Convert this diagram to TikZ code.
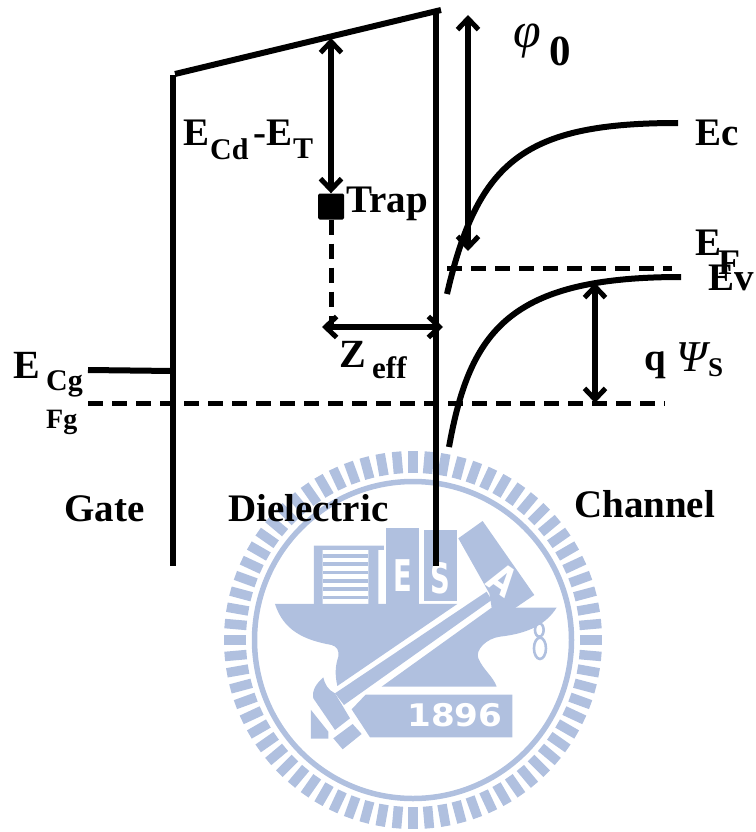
\documentclass[tikz,border=0pt]{standalone}
\usepackage{fontspec}
\setmainfont{Liberation Serif}
\newfontfamily\logofont{DejaVu Sans}
\usetikzlibrary{arrows.meta,calc}
\definecolor{seal}{HTML}{B0C0DF}
\tikzset{
  x=1pt,y=-1pt,
  band/.style={line width=6pt,black},
  level/.style={line width=5pt,black,dash pattern=on 15pt off 9pt},
  dim/.style={line width=5.5pt,black,{Straight Barb[length=11pt,width=21pt,line width=5pt]}-{Straight Barb[length=11pt,width=21pt,line width=5pt]}},
  lab/.style={anchor=base west,inner sep=0pt,font=\bfseries\fontsize{39}{39}\selectfont},
  sublab/.style={anchor=base west,inner sep=0pt,font=\bfseries\fontsize{30}{30}\selectfont},
  logotext/.style={text=white,inner sep=0pt,font=\logofont\bfseries\fontsize{38}{38}\selectfont},
  sealfill/.style={fill=seal,draw=none}
}
\begin{document}
\begin{tikzpicture}
\useasboundingbox (0,0) rectangle (755,832);
% seal
\coordinate (sc) at (413,640);
\foreach \a in {0,5,...,355}{
  \draw[seal,line width=9.5pt] ($(sc)+(\a:167)$) -- ($(sc)+(\a:189)$);
}
\draw[seal,line width=5.5pt] (sc) circle (158.5);
\begin{scope}[shift={(200,480)},x=0.3333pt,y=-0.3333pt]
  % anvil left and top
  \path[sealfill] (225,372) -- (772,372) -- (412,618) .. controls (405,585) and (405,560) .. (415,530) .. controls (418,510) and (410,500) .. (395,495) .. controls (310,480) and (250,450) .. cycle;
  % anvil right
  \path[sealfill] (875,383) -- (1070,383) .. controls (1040,430) and (990,460) .. (900,470) .. controls (860,475) and (825,510) .. (835,535) .. controls (850,570) and (880,590) .. (890,620) -- (545,620) -- cycle;
  % handle
  \path[sealfill] (405,640) -- (860,335) -- (875,360) -- (432,675) -- cycle;
  % head
  \path[sealfill] (370,592) .. controls (350,610) and (335,630) .. (340,655) -- (405,750) -- (450,715) -- (428,678) -- (405,640) .. controls (385,630) and (375,615) .. cycle;
  \path[sealfill] (333,690) -- (385,755) -- (385,776) -- (333,776) -- cycle;
  \path[sealfill] (400,775) -- (458,732) -- (485,762) -- (428,808) -- cycle;
  % banner
  \path[sealfill] (455,688) -- (497,644) -- (937,644) -- (937,772) -- (510,772) -- cycle;
  % books
  \path[sealfill] (342,197) -- (552,197) -- (552,210) -- (535,210) -- (535,372) -- (505,372) -- (505,210) -- (368,210) -- (368,372) -- (342,372) -- cycle;
  \foreach \y in {234,258,283,308,333,358}{
    \path[sealfill] (368,\y-11) rectangle (505,\y);
  }
  \path[sealfill] (557,143) rectangle (657,372);
  \path[sealfill] (672,150) rectangle (772,362);
  \path[sealfill] (775,175) -- (848,123) -- (1003,345) -- (915,405) -- (875,383) -- (868,340) -- cycle;
  \node[logotext,xscale=0.72,yscale=1.15] (letE) at (610,287) {E};
  \node[logotext,xscale=0.72,yscale=1.1] (letS) at (721,295) {S};
  \node[logotext,rotate=-35,xscale=0.85,yscale=1.05] (letA) at (908,298) {A};
  \node[logotext,xscale=0.9,yscale=0.82] (year) at (765,705) {1896};
  % chain
  \draw[seal,line width=2.6pt] (1018,450) ellipse (13 and 20);
  \draw[seal,line width=2.6pt] (1020,505) ellipse (18 and 32);
\end{scope}
% named points
\coordinate (gateB) at (173,566);
\coordinate (gateT) at (173,75);
\coordinate (cdR) at (441,10);
\coordinate (cdL) at (175,74);
\coordinate (dielT) at (436,12);
\coordinate (dielB) at (436,566);
\coordinate (cgL) at (88,370);
\coordinate (cgR) at (173,371);
\coordinate (fgL) at (88,403);
\coordinate (fgR) at (665,403);
\coordinate (efL) at (447,268);
\coordinate (efR) at (672,268);
\coordinate (phiT) at (468,15);
\coordinate (phiB) at (468,251);
\coordinate (cdA) at (331,38);
\coordinate (zL) at (322,327);
\coordinate (zR) at (443,327);
\coordinate (psiT) at (595,283);
\coordinate (psiB) at (595,403);
% main lines
\draw[band] (gateT) -- (gateB);
\draw[band] (cdL) -- (cdR);
\draw[band] (dielT) -- (dielB);
\draw[band] (cgL) -- (cgR);
\draw[level] (fgL) -- (fgR);
\draw[level] (efL) -- (efR);
% band bending
\draw[band] (447,294) .. controls (478,160) and (525,123) .. (678,123);
\draw[band] (449,447) .. controls (470,330) and (510,277) .. (681,277);
% trap
\node[fill=black,rounded corners=1.5pt,minimum size=26pt,inner sep=0pt] (trap) at (331,206.5) {};
\draw[level] (trap.south) -- (331,325);
% dimension arrows
\draw[dim] (cdA) -- (trap.north);
\draw[dim] (phiT) -- (phiB);
\draw[dim] (zL) -- (zR);
\draw[dim] (psiT) -- (psiB);
% labels
\node[lab] (lEcd) at (183,145) {E};
\node[sublab] (lCd) at (210,159) {Cd};
\node[lab] (lMinus) at (253,145) {-E};
\node[sublab] (lT) at (293,158) {T};
\node[lab] (lTrap) at (346,212) {Trap};
\node[font=\itshape\fontsize{50}{50}\selectfont,anchor=base west,inner sep=0pt] (lPhi) at (513,48) {φ};
\node[lab,font=\bfseries\fontsize{43}{43}\selectfont] (lZero) at (549,66) {0};
\node[lab] (lEc) at (695,146) {Ec};
\node[lab] (lEf) at (695,255) {E};
\node[lab,font=\bfseries\fontsize{36}{36}\selectfont] (lF) at (718,274) {F};
\node[lab] (lEv) at (708,290) {Ev};
\node[lab,font=\bfseries\fontsize{40}{40}\selectfont] (lZ) at (339,367) {Z};
\node[sublab,font=\bfseries\fontsize{31}{31}\selectfont] (leff) at (372,378) {eff};
\node[lab,font=\bfseries\fontsize{40}{40}\selectfont] (lE) at (13,378) {E};
\node[sublab] (lCg) at (46,390) {Cg};
\node[sublab,font=\bfseries\fontsize{28}{28}\selectfont] (lFg) at (46,428) {Fg};
\node[lab] (lq) at (644,370) {q};
\node[font=\itshape\fontsize{44}{44}\selectfont,anchor=base west,inner sep=0pt] (lPsi) at (676,371) {Ψ};
\node[sublab,font=\bfseries\fontsize{27}{27}\selectfont] (lS) at (708,376) {S};
\node[lab] (lGate) at (64,521) {Gate};
\node[lab] (lDiel) at (228,521) {Dielectric};
\node[lab] (lChan) at (574,517) {Channel};
\end{tikzpicture}
\end{document}
